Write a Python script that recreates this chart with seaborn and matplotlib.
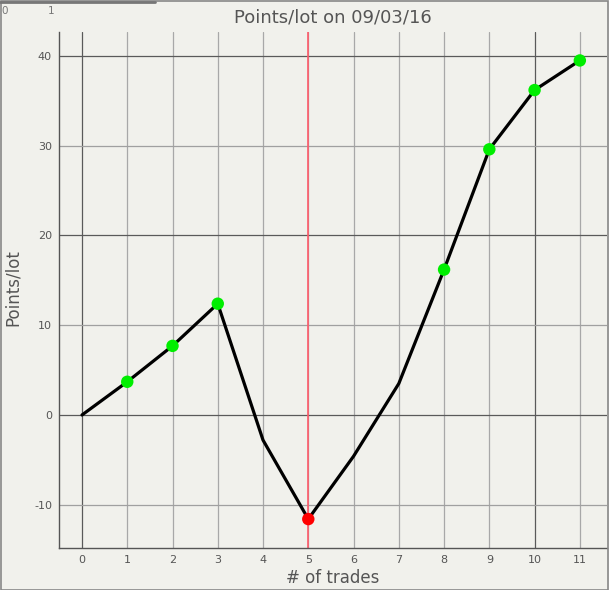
import matplotlib
matplotlib.use("Agg")
import matplotlib.pyplot as plt
import seaborn as sns
import pandas as pd
from matplotlib.patches import Rectangle
from matplotlib.lines import Line2D

# ---- data ----
trades = [0, 1, 2, 3, 4, 5, 6, 7, 8, 9, 10, 11]
points = [0.0, 3.7, 7.7, 12.4, -2.8, -11.6, -4.6, 3.5, 16.2, 29.6, 36.2, 39.5]
marker_kind = ["none", "win", "win", "win", "none", "loss", "none", "none", "win", "win", "win", "win"]
x_ticks = list(range(0, 12))
y_ticks = [-10, 0, 10, 20, 30, 40]
title = "Points/lot on 09/03/16"
xlabel = "# of trades"
ylabel = "Points/lot"
highlight_x = 5

bg = "#f1f1ec"
sns.set_theme(style="white")
plt.rcParams['font.family'] = ['DejaVu Sans']
plt.rcParams['axes.unicode_minus'] = False

df = pd.DataFrame({"trade": trades, "points": points, "kind": marker_kind})

fig = plt.figure(figsize=(6.09, 5.90), dpi=100, facecolor=bg)
ax = fig.add_axes([59/609, 42/590, (607-59)/609, (548-32)/590])
ax.set_facecolor(bg)

ax.set_xlim(-0.508, 11.6)
ax.set_ylim(-14.82, 42.67)

# gridlines (minor light, major dark)
for xv in x_ticks:
    c = "#5a5a5a" if xv % 10 == 0 else "#a8a8a8"
    ax.axvline(xv, color=c, lw=0.9, zorder=1)
for yv in y_ticks:
    c = "#5a5a5a" if yv % 20 == 0 else "#a0a0a0"
    ax.axhline(yv, color=c, lw=0.9, zorder=1)

ax.axvline(highlight_x, color="#ff5a6a", lw=1.2, zorder=2)

sns.lineplot(data=df, x="trade", y="points", color="black", lw=2.3, ax=ax, zorder=3)
pts = df[df["kind"] != "none"]
sns.scatterplot(data=pts, x="trade", y="points", hue="kind",
                palette={"win": "#00ee00", "loss": "#ff0000"},
                s=80, edgecolor="none", legend=False, ax=ax, zorder=4)

ax.set_xticks(x_ticks)
ax.set_yticks(y_ticks)
ax.tick_params(length=0, labelsize=8, colors="#555555", pad=5)
ax.set_xlabel("")
ax.set_ylabel("")
ax.set_title(title, fontsize=13, color="#555555", pad=7)
fig.text(333/609, 12/590, xlabel, fontsize=12, color="#555555", ha="center", va="center")
fig.text(13/609, 1 - 288/590, ylabel, fontsize=12, color="#555555", ha="center", va="center",
         rotation=90)

for s in ["top", "right"]:
    ax.spines[s].set_visible(False)
for s in ["left", "bottom"]:
    ax.spines[s].set_color("#555555")
    ax.spines[s].set_linewidth(1.0)

# figure border & top-left stub
fig.patches.append(Rectangle((0.5/609, 0.5/590), 607/609, 588.5/590, transform=fig.transFigure,
                             fill=False, edgecolor="#888888", lw=1.2))
fig.lines.append(Line2D([0, 155/609], [1 - 1.5/590, 1 - 1.5/590], transform=fig.transFigure,
                        color="#777777", lw=2.0))
fig.text(1/609, 1 - 11/590, "0", fontsize=7.5, color="#777777", ha="left", va="center")
fig.text(51/609, 1 - 11/590, "1", fontsize=7.5, color="#777777", ha="center", va="center")

fig.savefig("out.png", dpi=100, facecolor=bg)
